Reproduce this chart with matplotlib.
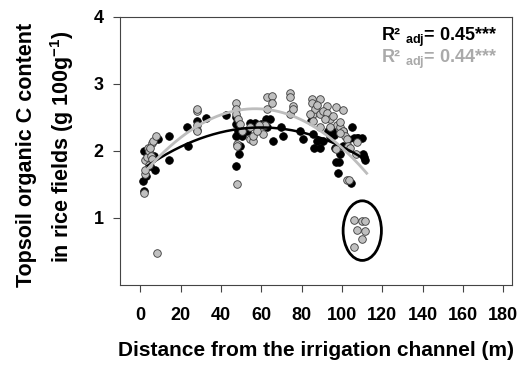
import numpy as np
import matplotlib
matplotlib.use("Agg")
import matplotlib.pyplot as plt
from matplotlib.patches import Ellipse

plt.rcParams['font.family'] = ['Liberation Sans', 'DejaVu Sans']
plt.rcParams['font.weight'] = 'bold'
plt.rcParams['mathtext.fontset'] = 'custom'
plt.rcParams['mathtext.rm'] = 'Liberation Sans:bold'
plt.rcParams['mathtext.bf'] = 'Liberation Sans:bold'

# black points (distance m, organic C)
black_x = [1.4, 1.9, 2.6, 2.0, 4.7, 7.2, 7.0, 8.8, 14.1, 14.1,
           23.6, 23.4, 32.8, 28.2,
           42.4, 47.4, 47.6, 47.7, 49.4, 49.0, 47.4, 48.5, 50.5,
           52.7, 54.3, 57.1, 58.8, 60.1, 62.3, 62.9, 64.3, 65.6, 69.6, 70.9,
           79.1, 80.8, 84.6, 85.8, 86.1, 87.4, 89.1, 90.7, 93.2, 94.9, 96.0, 96.6,
           96.9, 98.4, 98.3, 99.0, 100.7, 103.2, 104.8, 106.0, 107.4, 108.1, 109.8,
           110.7, 111.5, 111.0, 104.3, 100.7, 94.0]
black_y = [1.55, 1.40, 1.63, 2.00, 1.78, 1.71, 1.92, 2.18, 2.23, 1.86,
           2.08, 2.36, 2.49, 2.45,
           2.54, 2.50, 2.40, 2.23, 2.08, 1.95, 1.77, 2.30, 2.23,
           2.30, 2.42, 2.42, 2.38, 2.40, 2.48, 2.35, 2.47, 2.15, 2.35, 2.23,
           2.30, 2.18, 2.45, 2.25, 2.04, 2.15, 2.04, 2.15, 2.29, 2.30, 2.24, 2.05,
           1.83, 1.83, 1.67, 1.96, 2.30, 2.18, 2.36, 2.20, 2.20, 2.19, 2.19,
           1.96, 1.86, 1.91, 1.52, 2.08, 2.23]

# grey points
grey_x = [1.9, 2.2, 2.2, 2.2, 3.1, 3.9, 4.2, 4.4, 5.5, 6.0, 6.3, 8.0, 4.8, 6.0,
          28.2, 28.2, 28.2, 28.2, 28.2,
          47.7, 47.7, 47.7, 48.6, 49.4, 50.2, 48.1, 48.0, 48.1,
          54.3, 54.3, 56.0, 56.0, 61.0, 61.0, 61.8, 62.9, 62.9, 65.1, 65.1, 59.0, 57.7,
          74.2, 74.2, 74.2, 75.9, 75.9, 85.3, 85.3, 89.1, 85.8, 86.6, 89.1, 92.4, 90.7,
          92.4, 96.9, 100.7, 94.1, 95.4, 97.7, 99.0, 100.7, 101.5, 102.3, 103.2, 104.0,
          106.9, 107.6, 102.4, 103.7, 97.3, 99.0, 99.0, 91.6, 84.1, 87.4, 85.8, 89.1,
          94.1, 8.4, 106.1, 110.1, 111.4, 107.6, 111.4, 110.1, 106.1]
grey_y = [1.37, 1.66, 1.71, 1.87, 1.91, 2.05, 2.00, 1.79, 1.93, 2.12, 2.15, 2.23, 2.05, 1.88,
          2.60, 2.62, 2.39, 2.31, 2.29,
          2.72, 2.62, 2.55, 2.47, 2.40, 2.29, 2.10, 2.08, 1.51,
          2.35, 2.18, 2.15, 2.23, 2.38, 2.25, 2.39, 2.62, 2.80, 2.82, 2.72, 2.39, 2.29,
          2.87, 2.81, 2.55, 2.67, 2.62, 2.78, 2.72, 2.78, 2.55, 2.62, 2.55, 2.67, 2.60,
          2.56, 2.65, 2.61, 2.47, 2.52, 2.38, 2.35, 2.30, 2.23, 2.18, 2.08, 2.05,
          1.96, 2.13, 1.56, 1.57, 2.03, 2.27, 2.43, 2.47, 2.55, 2.68, 2.45, 2.36,
          2.35, 0.47, 0.97, 0.96, 0.95, 0.82, 0.81, 0.68, 0.56]

# quadratic regressions: (x of peak, peak value, curvature, x from, x to)
fit_black = (60.0, 2.35, 0.00018, 3.6, 111.5)
fit_grey = (57.0, 2.63, 0.000315, 3.7, 112.3)

r2_labels = ['0.45', '0.44']

fig = plt.figure(figsize=(5.27, 3.69), dpi=100)
ax = fig.add_axes([0.228, 0.228, 0.744, 0.726])

ax.scatter(black_x, black_y, s=30, c='black', edgecolors='black', linewidths=0.6, zorder=3)
ax.scatter(grey_x, grey_y, s=30, c='#c0c0c0', edgecolors='#3a3a3a', linewidths=0.6, zorder=4)


def quad(fit, color, lw):
    x0, y0, k, xa, xb = fit
    xs = np.linspace(xa, xb, 200)
    ax.plot(xs, y0 - k * (xs - x0) ** 2, color=color, lw=lw, zorder=5)


quad(fit_black, 'black', 1.8)
quad(fit_grey, '#bdbdbd', 2.0)

# circled outliers
ax.add_patch(Ellipse((110.1, 0.81), 19, 0.89, fill=False, edgecolor='black', lw=2, zorder=6))

# R2 annotations
for lab, col, yy in zip(r2_labels, ['black', '#aaaaaa'], [0.91, 0.828]):
    ax.text(0.962, yy, 'R² $_{\\mathrm{adj}}$= ' + lab + '***', transform=ax.transAxes,
            ha='right', va='baseline', fontsize=13, fontweight='bold', color=col)

ax.set_xlim(-10, 184.5)
ax.set_ylim(0, 4)
ax.set_xticks(np.arange(0, 181, 20))
ax.set_yticks([1, 2, 3, 4])
ax.tick_params(axis='x', direction='out', length=5, pad=11, labelsize=13, color='#444444')
ax.tick_params(axis='y', direction='out', length=5, pad=7, labelsize=13, color='#444444')
for lab in ax.get_xticklabels() + ax.get_yticklabels():
    lab.set_fontweight('bold')
for sp in ax.spines.values():
    sp.set_color('#444444')
    sp.set_linewidth(0.8)

ax.set_xlabel('Distance from the irrigation channel (m)', fontsize=15, fontweight='bold', labelpad=12)

# two-line y label
fig.text(27 / 527, 1 - 155 / 369, 'Topsoil organic C content', rotation=90,
         ha='center', va='center', fontsize=15.5, fontweight='bold')
fig.text(62 / 527, 1 - 147 / 369, 'in rice fields (g 100g$^{\\mathrm{-1}}$)', rotation=90,
         ha='center', va='center', fontsize=15.5, fontweight='bold')

fig.savefig('out.png', dpi=100)
